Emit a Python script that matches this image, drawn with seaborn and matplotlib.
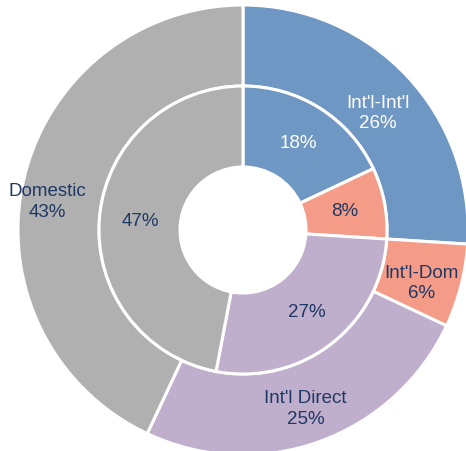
import numpy as np
import matplotlib
matplotlib.use('Agg')
import matplotlib.pyplot as plt
import seaborn as sns

outer_labels = ["Int'l-Int'l", "Int'l-Dom", "Int'l Direct", "Domestic"]
outer_values = [26, 6, 25, 43]
inner_values = [18, 8, 27, 47]

sns.set_theme(style='white')
plt.rcParams['font.family'] = ['Liberation Sans', 'DejaVu Sans']

palette = sns.color_palette(['#6f97c4', '#f49c88', '#bfaecc', '#b0b0b0'])
navy = '#1f3864'
text_colors = ['white', navy, navy, navy]

# small hand nudges for the outer labels (radius, vertical shift)
outer_label_r = [0.82, 0.82, 0.82, 0.89]
outer_label_dy = [-0.04, -0.03, -0.02, -0.065]

fig = plt.figure(figsize=(4.66, 4.52), dpi=100)
ax = fig.add_axes([0, 0, 1, 1])

r_out, r_in, r_hole = 1.0, 0.64, 0.28
wedge_style = dict(edgecolor='white', linewidth=2.2)

outer_wedges, _ = ax.pie(outer_values, radius=r_out, colors=palette, startangle=90,
                         counterclock=False,
                         wedgeprops=dict(width=r_out - r_in, **wedge_style))
inner_wedges, _ = ax.pie(inner_values, radius=r_in, colors=palette, startangle=90,
                         counterclock=False,
                         wedgeprops=dict(width=r_in - r_hole, **wedge_style))


def mid_angle(w):
    return np.deg2rad((w.theta1 + w.theta2) / 2)


# outer ring labels
for w, name, val, col, r, dy in zip(outer_wedges, outer_labels, outer_values, text_colors,
                                    outer_label_r, outer_label_dy):
    a = mid_angle(w)
    ax.text(r * np.cos(a), r * np.sin(a) + dy, f'{name}\n{val}%', ha='center', va='center',
            fontsize=13.5, color=col, linespacing=1.25)

# inner ring labels
for w, val, col in zip(inner_wedges, inner_values, text_colors):
    a = mid_angle(w)
    r = (r_in + r_hole) / 2
    ax.text(r * np.cos(a), r * np.sin(a), f'{val}%', ha='center', va='center',
            fontsize=13.5, color=col)

ax.set_xlim(-243 / 225, (466 - 243) / 225)
ax.set_ylim(-221 / 225, 231 / 225)
ax.set_aspect('equal')
ax.axis('off')

fig.savefig('out.png', dpi=100, facecolor='white')
